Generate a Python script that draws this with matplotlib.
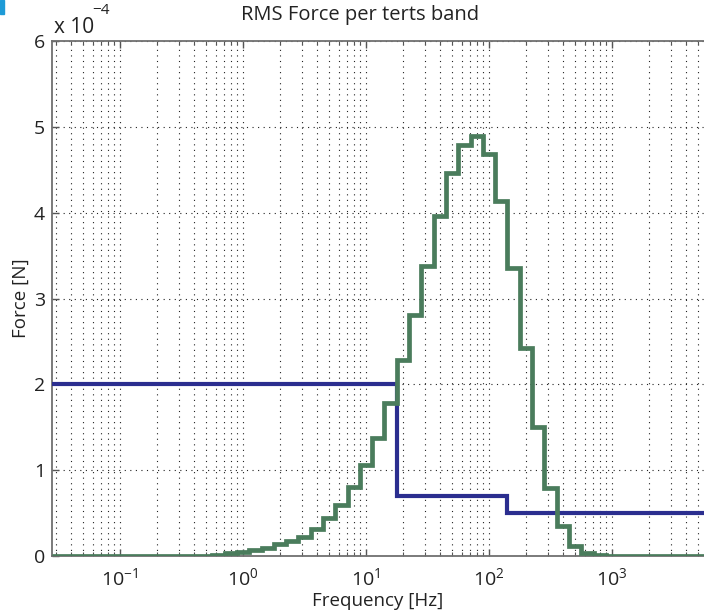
import numpy as np
import matplotlib
matplotlib.use("Agg")
import matplotlib.pyplot as plt
from matplotlib.ticker import FuncFormatter, LogLocator, FixedLocator, NullLocator
from matplotlib.patches import Rectangle

plt.rcParams['font.family'] = ['Open Sans', 'DejaVu Sans']
plt.rcParams['mathtext.fontset'] = 'custom'
plt.rcParams['mathtext.rm'] = 'Open Sans'
plt.rcParams['mathtext.it'] = 'Open Sans:italic'
plt.rcParams['mathtext.bf'] = 'Open Sans:bold'

# ---- data (force in units of 1e-4 N) ----
band_centers_hz = [0.5, 0.63, 0.8, 1, 1.25, 1.6, 2, 2.5, 3.15, 4, 5, 6.3, 8, 10,
                   12.5, 16, 20, 25, 31.5, 40, 50, 63, 80, 100, 125, 160, 200,
                   250, 315, 400, 500, 630, 800, 1000]
green_force = [0.005, 0.015, 0.03, 0.045, 0.065, 0.09, 0.14, 0.17, 0.22, 0.32,
               0.44, 0.59, 0.80, 1.06, 1.38, 1.78, 2.28, 2.81, 3.38, 3.96,
               4.46, 4.79, 4.89, 4.68, 4.14, 3.35, 2.42, 1.50, 0.79, 0.35,
               0.12, 0.04, 0.01, 0.0]
blue_breaks_hz = [17.8, 141]
blue_force = [2.0, 0.7, 0.5]

x_min, x_max = 0.028, 5600
y_ticks = [0, 1, 2, 3, 4, 5, 6]
x_major = [0.1, 1, 10, 100, 1000]

W, H = 704, 613
fig = plt.figure(figsize=(W / 100, H / 100), dpi=100)
ax = fig.add_axes([52 / W, (H - 556) / H, 1 - 52 / W, (556 - 41) / H])

c = np.array(band_centers_hz, dtype=float)
inner = np.sqrt(c[:-1] * c[1:])
step = 10 ** 0.05
edges = np.concatenate(([x_min, c[0] / step], inner, [c[-1] * step, x_max]))
gvals = np.concatenate(([0.0], green_force, [0.0]))

bedges = np.concatenate(([x_min], blue_breaks_hz, [x_max]))

ax.stairs(blue_force, bedges, baseline=None, color='#2b2e8f', lw=3.0, zorder=3)
ax.stairs(gvals, edges, baseline=None, color='#4a7c5c', lw=3.4, zorder=4)

ax.set_xscale('log')
ax.set_xlim(x_min, x_max)
ax.set_ylim(0, 6)
ax.xaxis.set_major_locator(FixedLocator(x_major))
ax.xaxis.set_minor_locator(LogLocator(base=10, subs=np.arange(2, 10), numticks=20))
ax.xaxis.set_major_formatter(FuncFormatter(lambda v, p: r'$\mathregular{10^{%d}}$' % int(round(np.log10(v)))))
ax.set_yticks(y_ticks)
ax.yaxis.set_minor_locator(NullLocator())

ax.tick_params(axis='both', which='major', direction='in', length=5, width=1,
               labelsize=14, colors='#555555', labelcolor='#222222',
               top=True, right=False)
ax.tick_params(axis='x', which='major', pad=8)
ax.tick_params(axis='y', which='major', pad=5)
ax.tick_params(axis='x', which='minor', direction='in', length=3, width=0.8,
               colors='#555555', top=True)

ax.grid(True, which='major', axis='both', linestyle=(0, (1, 4)), color='#222222', lw=0.8)
ax.grid(True, which='minor', axis='x', linestyle=(0, (1, 4)), color='#222222', lw=0.8)

for s in ['left', 'bottom', 'top']:
    ax.spines[s].set_color('#707070')
    ax.spines[s].set_linewidth(1.3)
ax.spines['right'].set_visible(False)

ax.set_xlabel('Frequency [Hz]', fontsize=13.5, color='#222222', labelpad=2)
ax.set_ylabel('Force [N]', fontsize=13.5, color='#222222', labelpad=3)

fig.text(360 / W, 1 - 15 / H, 'RMS Force per terts band', ha='center', va='center',
         fontsize=14.5, color='#222222')
fig.text(54 / W, 1 - 33 / H, 'x 10', ha='left', va='baseline',
         fontsize=15, color='#222222')
fig.text(92 / W, 1 - 11 / H, '\u22124', ha='left', va='center',
         fontsize=11, color='#222222')

fig.patches.append(Rectangle((0, 1 - 14 / H), 4 / W, 14 / H, transform=fig.transFigure,
                             color='#1e9bd7', zorder=10))

fig.savefig('out.png', dpi=100)
